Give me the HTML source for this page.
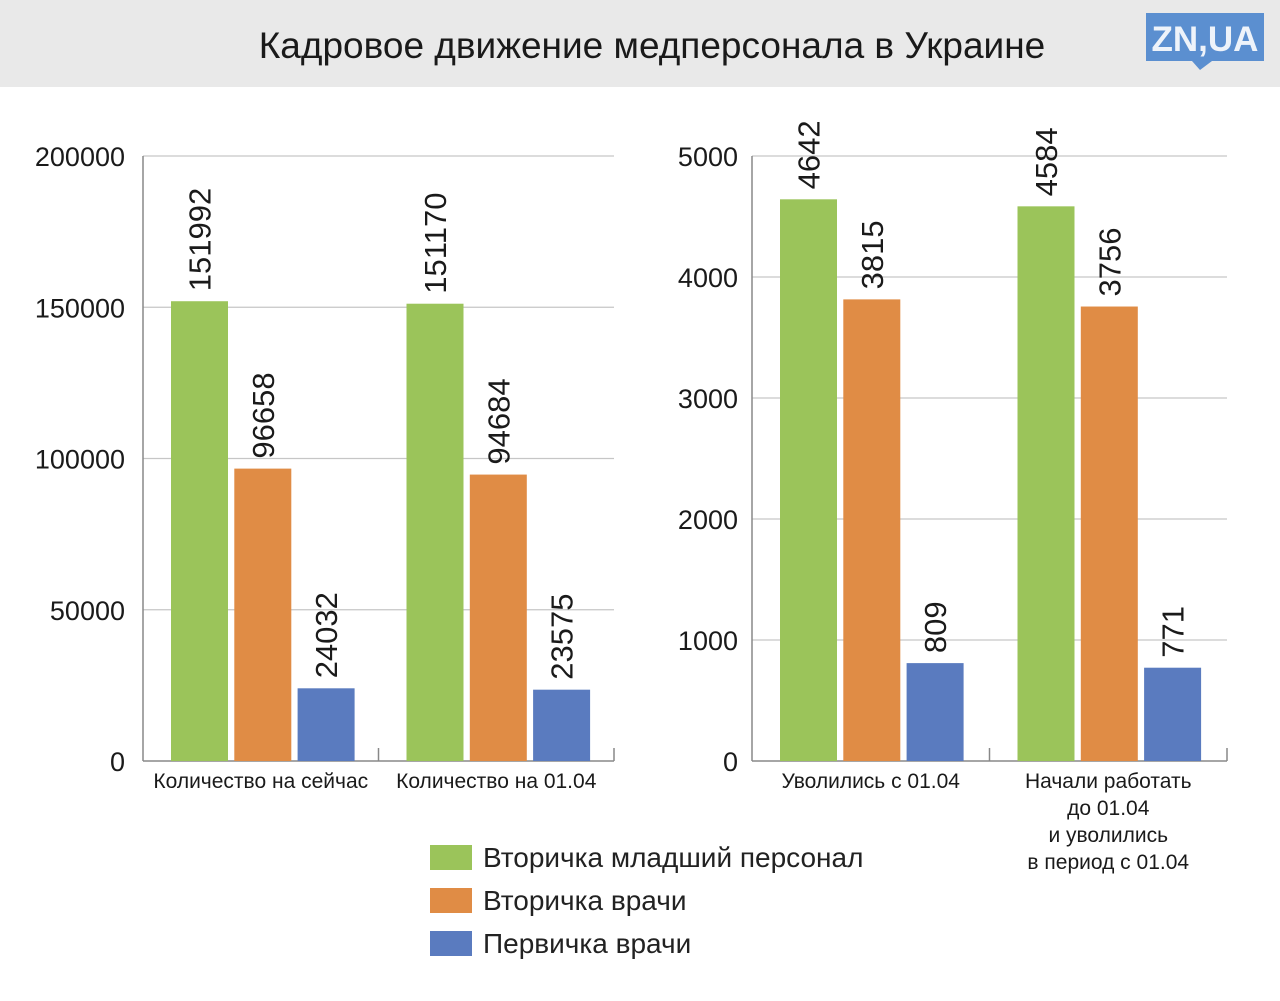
<!DOCTYPE html>
<html><head><meta charset="utf-8">
<style>
html,body{margin:0;padding:0;background:#fff;}
svg{display:block;font-family:"Liberation Sans Narrow","Liberation Sans","DejaVu Sans",sans-serif;}
</style></head>
<body>
<svg id="c" width="1280" height="1001" viewBox="0 0 1280 1001" xmlns="http://www.w3.org/2000/svg">
<rect x="0" y="0" width="1280" height="87" fill="#e9e9e9"/>
<text x="652" y="58" text-anchor="middle" font-size="37" fill="#1a1a1a">Кадровое движение медперсонала в Украине</text>
<g>
<rect x="1146" y="13" width="118" height="48" fill="#5b8fd0"/>
<polygon points="1192,61 1212,61 1200,70" fill="#5b8fd0"/>
<text x="1205" y="51" text-anchor="middle" font-size="35" font-weight="bold" fill="#eef3fa">ZN,UA</text>
</g>
<g id="charts"></g>
<g>
<rect x="430" y="845" width="42" height="25" fill="#9bc45a"/>
<text x="483" y="867" font-size="28" fill="#222">Вторичка младший персонал</text>
<rect x="430" y="888" width="42" height="25" fill="#e08c45"/>
<text x="483" y="910" font-size="28" fill="#222">Вторичка врачи</text>
<rect x="430" y="931" width="42" height="25" fill="#5a7bbf"/>
<text x="483" y="953" font-size="28" fill="#222">Первичка врачи</text>
</g>
</svg>
<script>
const leftCategories = [["Количество на сейчас"], ["Количество на 01.04"]];
const leftJunior = [151992, 151170];
const leftSecDoctors = [96658, 94684];
const leftPrimDoctors = [24032, 23575];
const leftTicks = [0, 50000, 100000, 150000, 200000];

const rightCategories = [["Уволились с 01.04"], ["Начали работать", "до 01.04", "и уволились", "в период с 01.04"]];
const rightJunior = [4642, 4584];
const rightSecDoctors = [3815, 3756];
const rightPrimDoctors = [809, 771];
const rightTicks = [0, 1000, 2000, 3000, 4000, 5000];

const NS = "http://www.w3.org/2000/svg";
const root = document.getElementById("charts");
const colors = ["#9bc45a", "#e08c45", "#5a7bbf"];
const seriesNames = ["junior", "sec-doctors", "prim-doctors"];

function mk(tag, attrs, parent) {
  const e = document.createElementNS(NS, tag);
  for (const k in attrs) e.setAttribute(k, attrs[k]);
  parent.appendChild(e);
  return e;
}

function drawChart(prefix, x0, x1, tickX, cats, series, ticks) {
  const yBase = 761, yTop = 156;
  const maxV = ticks[ticks.length - 1];
  const y = v => yBase - (v / maxV) * (yBase - yTop);
  const g = mk("g", {}, root);
  
  
  ticks.forEach(t => {
    if (t > 0) {
      const l = mk("line", {x1: x0, x2: x1, y1: y(t), y2: y(t), stroke: "#c6c6c6", "stroke-width": 1.3}, g);
      
      
    }
    const tx = mk("text", {x: tickX, y: y(t) + 10, "text-anchor": "end", "font-size": 27, fill: "#1a1a1a"}, g);
    tx.textContent = t;
    
    
  });
  const ax = mk("line", {x1: x0, x2: x0, y1: yTop, y2: yBase, stroke: "#888", "stroke-width": 1.5}, g);
  
  
  const bx = mk("line", {x1: x0, x2: x1, y1: yBase, y2: yBase, stroke: "#888", "stroke-width": 1.5}, g);
  
  
  const catW = (x1 - x0) / cats.length;
  cats.forEach((lines, i) => {
    const cx0 = x0 + i * catW;
    const tk = mk("line", {x1: cx0 + catW, x2: cx0 + catW, y1: yBase - 13, y2: yBase, stroke: "#888", "stroke-width": 1.5}, g);
    
    
    const barW = 57, gap = 6.3;
    const start = cx0 + 28;
    series.forEach((arr, s) => {
      const v = arr[i];
      const bxp = start + s * (barW + gap);
      const r = mk("rect", {x: bxp, y: y(v), width: barW, height: yBase - y(v), fill: colors[s]}, g);
      
      
      const lx = bxp + barW / 2 + 11, ly = y(v) - 10;
      const lt = mk("text", {x: lx, y: ly, transform: "rotate(-90 " + lx + " " + ly + ")", "font-size": 31, fill: "#1a1a1a"}, g);
      lt.textContent = v;
      
      
    });
    lines.forEach((ln, k) => {
      const ct = mk("text", {x: cx0 + catW / 2, y: 788 + k * 27, "text-anchor": "middle", "font-size": 21, fill: "#1a1a1a"}, g);
      ct.textContent = ln;
      
      
    });
  });
}

drawChart("left", 143, 614, 125, leftCategories, [leftJunior, leftSecDoctors, leftPrimDoctors], leftTicks);
drawChart("right", 752, 1227, 738, rightCategories, [rightJunior, rightSecDoctors, rightPrimDoctors], rightTicks);
</script>
</body></html>
